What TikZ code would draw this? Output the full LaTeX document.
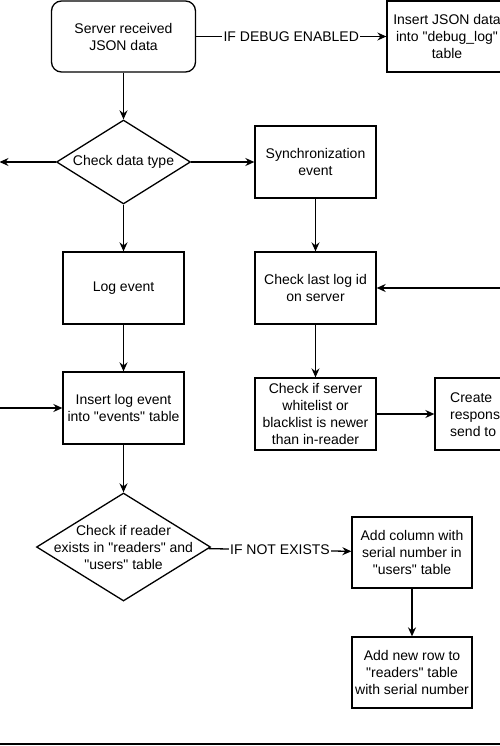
\documentclass[tikz,border=0pt]{standalone}
\usepackage{fontspec}
\setmainfont{Liberation Sans}
\usetikzlibrary{shapes.geometric,arrows.meta}
\begin{document}
\begin{tikzpicture}[x=1pt,y=-1pt,
  every node/.style={font=\fontsize{14}{17}\selectfont, text=black},
  box/.style={draw, line width=1.3pt, align=center, inner sep=0pt, minimum width=121pt, minimum height=72pt},
  rbox/.style={box, rounded corners=10pt},
  dia/.style={draw, diamond, line width=1.3pt, inner sep=0pt},
  txt/.style={align=center, inner sep=0pt},
  lbl/.style={fill=white, inner sep=1.5pt},
  arr/.style={line width=1.3pt, -{Stealth[length=9pt,width=8pt,inset=3pt]}}]
\clip (0,0) rectangle (500,746);
\fill[white] (0,0) rectangle (500,746);
% nodes
\node[rbox, minimum width=144pt, minimum height=71pt] (start) at (123.5,36.5) {Server received\\JSON data};
\node[box, minimum width=120pt, minimum height=71pt] (debug) at (447,36.5) {Insert JSON data\\into \textquotedbl debug\_log\textquotedbl\\table};
\node[dia, minimum width=134pt, minimum height=84pt] (dt) at (123.5,162) {};
\node[txt] (dttxt) at (dt) {Check data type};
\node[box] (sync) at (315.5,162) {Synchronization\\event};
\node[box] (log) at (123.5,288) {Log event};
\node[box] (chklast) at (315.5,288) {Check last log id\\on server};
\node[box] (ins) at (123.5,408) {Insert log event\\into \textquotedbl events\textquotedbl\ table};
\node[box] (wl) at (315.5,414) {Check if server\\whitelist or\\blacklist is newer\\than in-reader};
\node[box, minimum width=120pt] (resp) at (495,414) {};
\node[txt, anchor=west, align=left] (resptxt) at (450,415) {Create\\respons\\send to};
\node[dia, minimum width=174pt, minimum height=108pt] (chk) at (123.5,547) {};
\node[txt] (chktxt) at (chk) {Check if reader\\exists in \textquotedbl readers\textquotedbl\ and\\\textquotedbl users\textquotedbl\ table};
\node[box, minimum width=120pt, minimum height=71pt] (addcol) at (412,552.5) {Add column with\\serial number in\\\textquotedbl users\textquotedbl\ table};
\node[box, minimum width=120pt, minimum height=71pt] (addrow) at (412,672.5) {Add new row to\\\textquotedbl readers\textquotedbl\ table\\with serial number};
% free ends
\coordinate (lout) at (-0.5,162);
\coordinate (lin) at (-10,408);
\coordinate (rin) at (510,288);
% connectors
\draw[arr] (start) -- node[lbl] {IF DEBUG ENABLED} (debug);
\draw[arr] (start) -- (dt);
\draw[arr] (dt) -- (lout);
\draw[arr] (dt) -- (sync);
\draw[arr] (dt) -- (log);
\draw[arr] (sync) -- (chklast);
\draw[arr] (rin) -- (chklast);
\draw[arr] (log) -- (ins);
\draw[arr] (lin) -- (ins);
\draw[arr] (chklast) -- (wl);
\draw[arr] (wl) -- (resp);
\draw[arr] (ins) -- (chk);
\draw[arr] (chk) -- node[lbl] {IF NOT EXISTS} (addcol);
\draw[arr] (addcol) -- (addrow);
% bottom rule
\draw[line width=2pt] (-5,744) -- (505,744);
\end{tikzpicture}
\end{document}
